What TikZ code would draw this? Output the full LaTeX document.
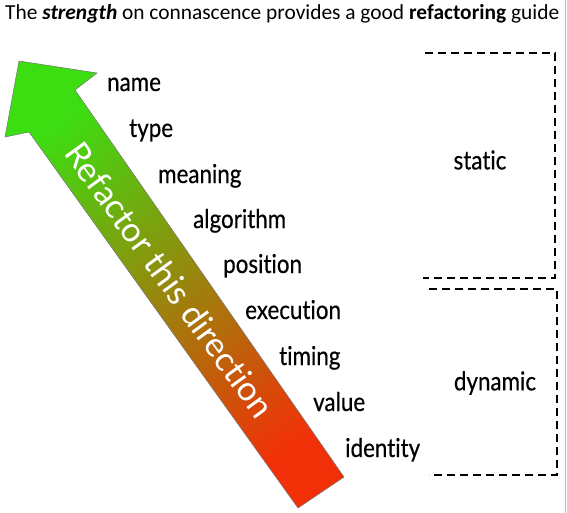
\documentclass[tikz,border=0pt]{standalone}
\usepackage{fontspec}
\setmainfont{Carlito}
\newfontfamily\narrowfont[FakeStretch=0.86, FakeBold=0.4, Ligatures=NoCommon]{Lato}
\newfontfamily\arrowfont[Ligatures=NoCommon]{Lato}
\usetikzlibrary{positioning}

\definecolor{refgreen}{RGB}{60,222,18}
\definecolor{refred}{RGB}{242,48,8}

\tikzset{
  kind/.style={font=\narrowfont\fontsize{26}{30}\selectfont, anchor=base west, inner sep=0pt},
  group/.style={font=\narrowfont\fontsize{26}{30}\selectfont, inner sep=0pt},
  bracket/.style={line width=2.2pt, dash pattern=on 8pt off 5pt},
  refarrow/.style={top color=refgreen, bottom color=refred, shading angle=35,
    draw=black!55, line width=0.5pt}
}

\begin{document}
\begin{tikzpicture}[x=1pt, y=1pt]
    \useasboundingbox (0,0) rectangle (567,-513);

    \node[anchor=base west, inner sep=0pt, font=\fontsize{21.4}{25}\selectfont] (title) at (5,-20)
      {The \textbf{\textit{strength}} on connascence provides a good \textbf{refactoring} guide};

    % the big arrow
    \path[refarrow] (19,-61) -- (97,-73) -- (75,-90) -- (344,-477) -- (298,-508)
      -- (29,-132) -- (5,-137) -- cycle;
    \node[white, font=\arrowfont\fontsize{34}{40}\selectfont, rotate=-54] (dir) at (170,-280)
      {Refactor this direction};

    \node[kind] (name) at (107,-91) {name};
    \node[kind] (type) at (129,-137) {type};
    \node[kind] (meaning) at (158,-183) {meaning};
    \node[kind] (algorithm) at (193,-228) {algorithm};
    \node[kind] (position) at (223,-273) {position};
    \node[kind] (execution) at (245,-319) {execution};
    \node[kind] (timing) at (279,-365) {timing};
    \node[kind] (value) at (313,-411) {value};
    \node[kind] (identity) at (345,-457) {identity};

    \node[group] (static) at (480,-160) {static};
    \node[group] (dynamic) at (495,-383) {dynamic};

    \draw[bracket] (425,-53) -- (555,-53) -- (555,-278) -- (423,-278);
    \draw[bracket] (429,-289) -- (557,-289) -- (557,-475) -- (429,-475);

    \draw[gray!55, line width=1pt] (565.5,0) -- (565.5,-513);
\end{tikzpicture}
\end{document}
